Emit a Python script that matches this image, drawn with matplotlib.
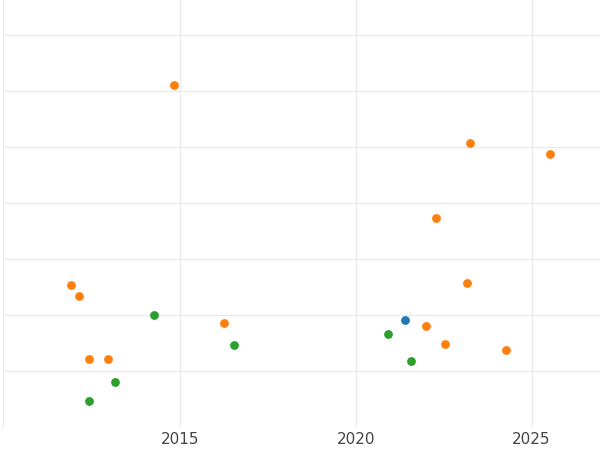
import matplotlib
matplotlib.use("Agg")
import matplotlib.pyplot as plt

orange_x = [2014.83, 2023.24, 2025.54, 2022.27, 2023.15, 2011.90, 2012.10, 2016.25, 2021.99, 2022.53, 2024.26, 2012.39, 2012.95]
orange_y = [6.11, 5.07, 4.875, 3.73, 2.57, 2.54, 2.34, 1.86, 1.80, 1.48, 1.375, 1.21, 1.21]
green_x = [2014.26, 2016.53, 2020.91, 2021.56, 2013.15, 2012.39]
green_y = [2.0, 1.46, 1.66, 1.18, 0.80, 0.46]
blue_x = [2021.39]
blue_y = [1.91]
xticks = [2015, 2020, 2025]

fig = plt.figure(figsize=(6, 4.5), dpi=100)
ax = fig.add_axes([0.005, 0.051, 0.995, 0.949])
ax.scatter(blue_x, blue_y, color="#1f77b4", s=40, zorder=3, linewidths=0)
ax.scatter(orange_x, orange_y, color="#ff7f0e", s=40, zorder=3, linewidths=0)
ax.scatter(green_x, green_y, color="#2ca02c", s=40, zorder=3, linewidths=0)
ax.set_xlim(2009.95, 2026.95)
ax.set_ylim(0, 7.625)
ax.set_xticks(xticks)
ax.set_xticklabels([str(t) for t in xticks])
ax.set_yticks(range(1, 8))
ax.set_yticklabels([])
ax.tick_params(axis="both", length=0, labelsize=11, labelcolor="#444444")
ax.grid(True, color="#ebebeb", linewidth=1)
ax.set_axisbelow(True)
for s in ["top", "right", "bottom"]:
    ax.spines[s].set_visible(False)
ax.spines["left"].set_color("#ebebeb")
fig.savefig("out.png", dpi=100)
